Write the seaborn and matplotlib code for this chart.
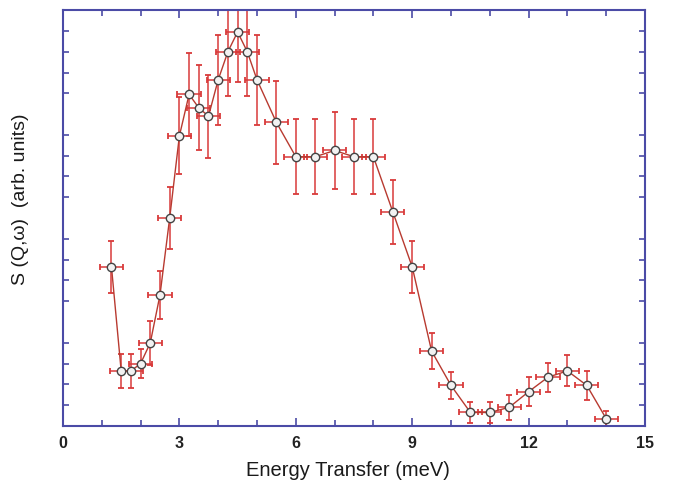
import numpy as np
import pandas as pd
import matplotlib
matplotlib.use('Agg')
import matplotlib.pyplot as plt
import seaborn as sns

# energy transfer (meV) and S(Q,w)
energy = [1.25, 1.5, 1.75, 2.0, 2.25, 2.5, 2.75, 3.0, 3.25, 3.5, 3.75, 4.0, 4.25, 4.5, 4.75, 5.0,
          5.5, 6.0, 6.5, 7.0, 7.5, 8.0, 8.5, 9.0, 9.5, 10.0, 10.5, 11.0, 11.5, 12.0, 12.5, 13.0, 13.5, 14.0]
sqw = [1.53, 0.53, 0.53, 0.60, 0.80, 1.26, 2.00, 2.79, 3.19, 3.06, 2.98, 3.33, 3.60, 3.79, 3.60, 3.33,
       2.92, 2.59, 2.59, 2.65, 2.59, 2.59, 2.06, 1.53, 0.72, 0.39, 0.13, 0.13, 0.18, 0.33, 0.47, 0.53, 0.39, 0.07]
sqw_err = [0.25, 0.16, 0.16, 0.14, 0.21, 0.23, 0.30, 0.37, 0.40, 0.41, 0.40, 0.43, 0.43, 0.48, 0.43, 0.43,
           0.40, 0.36, 0.36, 0.37, 0.36, 0.36, 0.31, 0.25, 0.17, 0.13, 0.10, 0.10, 0.12, 0.14, 0.14, 0.15, 0.14, 0.07]
energy_err = [0.3] * len(energy)

df = pd.DataFrame({'E': energy, 'S': sqw})

sns.set_style('ticks')
plt.rcParams['font.family'] = ['Liberation Sans', 'DejaVu Sans']

frame = '#4b4ba6'
fig = plt.figure(figsize=(6.8, 4.83), dpi=100)
ax = fig.add_axes([0.0926, 0.118, 0.856, 0.861])

ax.errorbar(energy, sqw, yerr=sqw_err, xerr=energy_err, fmt='none',
            ecolor='#d93a3a', elinewidth=1.1, capsize=2.5, capthick=1.3, zorder=2)
sns.lineplot(data=df, x='E', y='S', ax=ax, color='#b83a30', lw=1.0, zorder=3,
             marker='o', markersize=6, markerfacecolor='#f2f2f2',
             markeredgecolor='#444444', markeredgewidth=1.0)

ax.set_xlim(0, 15)
ax.set_ylim(0, 4)
ax.set_xticks([0, 3, 6, 9, 12, 15])
ax.set_xticks(np.arange(0, 16, 1), minor=True)
ax.set_yticks([0, 1, 2, 3, 4])
ax.set_yticks(np.arange(0, 4.01, 0.2), minor=True)
ax.set_yticklabels([])
ax.tick_params(axis='x', which='major', direction='in', length=6, width=1.2, color=frame,
               top=True, labelsize=11.5, pad=7)
ax.tick_params(axis='x', which='minor', direction='in', length=4, width=1.2, color=frame, top=True)
ax.tick_params(axis='y', which='major', length=0, right=True)
ax.tick_params(axis='y', which='minor', direction='in', length=4, width=1.2, color=frame, right=True)
for lab in ax.get_xticklabels():
    lab.set_fontweight('bold')
    lab.set_color('#222222')

for s in ax.spines.values():
    s.set_visible(True)
    s.set_color(frame)
    s.set_linewidth(1.5)

ax.set_xlabel('Energy Transfer (meV)', fontsize=14.5, color='#1a1a1a')
ax.xaxis.set_label_coords(0.49, -0.085)
ax.set_ylabel('S (Q,ω)  (arb. units)', fontsize=14, color='#1a1a1a')
ax.yaxis.set_label_coords(-0.058, 0.546)

fig.savefig('out.png', dpi=100)
